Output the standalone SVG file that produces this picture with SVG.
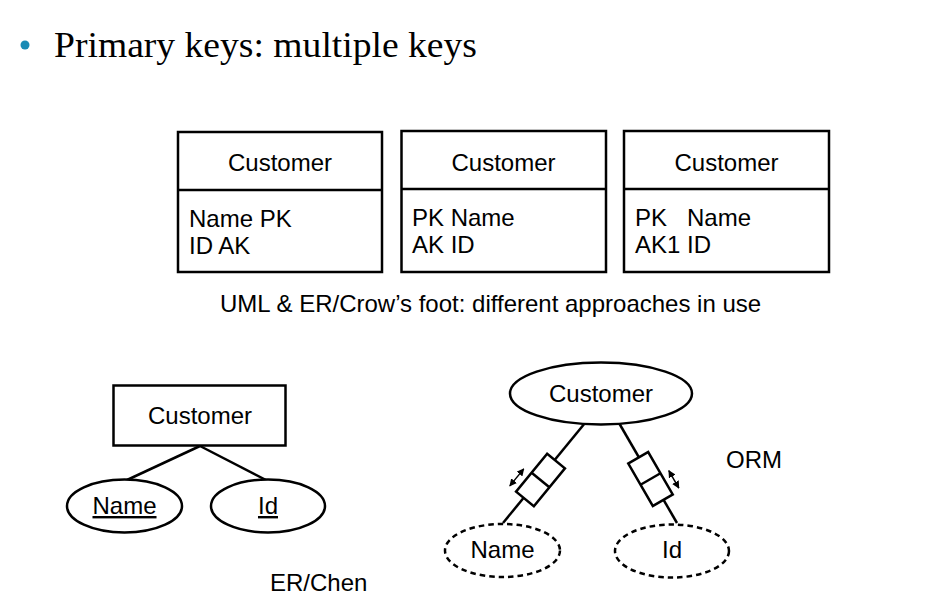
<svg xmlns="http://www.w3.org/2000/svg" width="948" height="611" viewBox="0 0 948 611">
<style>
  .t{font-family:"Liberation Sans",Arial,sans-serif;font-size:24px;fill:#000}
  .c{text-anchor:middle}
  .s{fill:none;stroke:#000;stroke-width:2.5}
  .w{fill:#fff;stroke:#000;stroke-width:2.5}
  .d{fill:#fff;stroke:#000;stroke-width:2.5;stroke-dasharray:5.5 4}
  .a{fill:none;stroke:#000;stroke-width:1.5}
</style>
<defs>
  <marker id="ah" viewBox="0 0 10 10" refX="9" refY="5" markerWidth="5" markerHeight="5" orient="auto-start-reverse" markerUnits="strokeWidth">
    <path d="M0,0 L10,5 L0,10 z" fill="#000"/>
  </marker>
</defs>
<rect width="948" height="611" fill="#fff"/>
<g id="title">
  <circle cx="25" cy="45" r="4.5" fill="#1a8bb5"/>
  <text x="54" y="57" font-family="Georgia,'Liberation Serif','DejaVu Serif',serif" font-size="35" textLength="423" lengthAdjust="spacingAndGlyphs">Primary keys: multiple keys</text>
</g>
<g id="box1">
  <rect class="s" x="178" y="132" width="204" height="140"/>
  <line class="s" x1="178" y1="190" x2="382" y2="190"/>
  <text class="t c" x="280" y="171">Customer</text>
  <text class="t" x="189" y="226.5">Name PK</text>
  <text class="t" x="189" y="253.5">ID AK</text>
</g>
<g id="box2">
  <rect class="s" x="401.5" y="131" width="204.5" height="141"/>
  <line class="s" x1="401.5" y1="189" x2="606" y2="189"/>
  <text class="t c" x="503.5" y="170.5">Customer</text>
  <text class="t" x="412" y="226">PK Name</text>
  <text class="t" x="412" y="253">AK ID</text>
</g>
<g id="box3">
  <rect class="s" x="624" y="131" width="205" height="141"/>
  <line class="s" x1="624" y1="189" x2="829" y2="189"/>
  <text class="t c" x="726.5" y="170.5">Customer</text>
  <text class="t" x="635" y="226">PK</text>
  <text class="t" x="687" y="226">Name</text>
  <text class="t" x="635" y="253">AK1</text>
  <text class="t" x="687" y="253">ID</text>
</g>
<g id="caption-uml">
  <text class="t" x="220" y="311.5">UML &amp; ER/Crow’s foot: different approaches in use</text>
</g>
<g id="connectors">
  <line class="s" x1="200" y1="446" x2="127" y2="480"/>
  <line class="s" x1="200" y1="446" x2="266" y2="480"/>
  <line class="s" x1="585" y1="423" x2="503" y2="523"/>
  <line class="s" x1="619" y1="423" x2="677" y2="523"/>
</g>
<g id="chen-customer">
  <rect class="w" x="113.5" y="385.5" width="172" height="60"/>
  <text class="t c" x="200" y="424">Customer</text>
</g>
<g id="chen-name">
  <ellipse class="w" cx="124.5" cy="506" rx="57.5" ry="26.5"/>
  <text class="t c" x="124.5" y="514" text-decoration="underline">Name</text>
</g>
<g id="chen-id">
  <ellipse class="w" cx="268" cy="506" rx="57" ry="26.5"/>
  <text class="t c" x="268" y="514" text-decoration="underline">Id</text>
</g>
<g id="caption-chen">
  <text class="t" x="270" y="591">ER/Chen</text>
</g>
<g id="orm-customer">
  <ellipse class="w" cx="601" cy="393.5" rx="91" ry="31"/>
  <text class="t c" x="601" y="402">Customer</text>
</g>
<g id="orm-name">
  <ellipse class="d" cx="502.5" cy="550.5" rx="57.5" ry="26.5"/>
  <text class="t c" x="502.5" y="558">Name</text>
</g>
<g id="orm-id">
  <ellipse class="d" cx="672" cy="551" rx="57" ry="26.5"/>
  <text class="t c" x="672" y="558">Id</text>
</g>
<g id="orm-role-name" transform="translate(540.5,480) rotate(39.35)">
  <rect class="w" x="-11.5" y="-24.5" width="23" height="49"/>
  <line class="s" x1="-11.5" y1="0" x2="11.5" y2="0"/>
  <line class="a" x1="-20" y1="2" x2="-20" y2="24" marker-start="url(#ah)" marker-end="url(#ah)"/>
</g>
<g id="orm-role-id" transform="translate(650.5,479) rotate(-30.1)">
  <rect class="w" x="-11.5" y="-24.5" width="23" height="49"/>
  <line class="s" x1="-11.5" y1="0" x2="11.5" y2="0"/>
  <line class="a" x1="20" y1="2" x2="20" y2="22" marker-start="url(#ah)" marker-end="url(#ah)"/>
</g>
<g id="caption-orm">
  <text class="t" x="726" y="468">ORM</text>
</g>
</svg>
